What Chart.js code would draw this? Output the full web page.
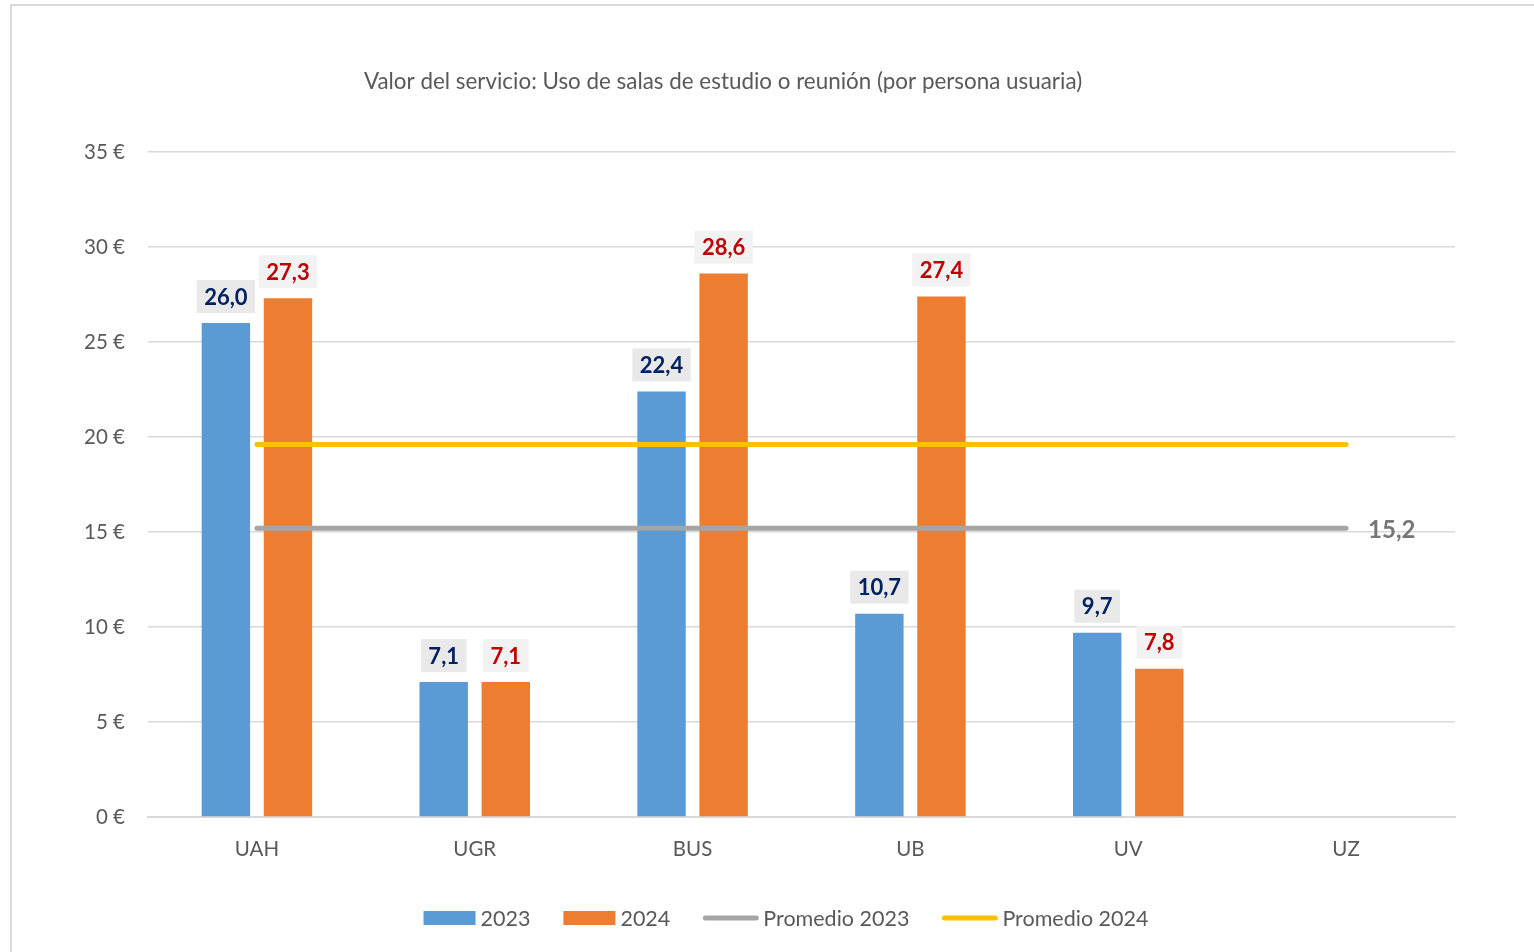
<!DOCTYPE html>
<html lang="es">
<head>
    <meta charset="UTF-8">
    <title>Valor del servicio</title>
    <script src="https://cdn.jsdelivr.net/npm/chart.js"></script>
    <style>
        body { margin: 0; background: #fff; }
        #wrap { width: 1534px; height: 952px; position: relative; }
    </style>
</head>
<body>
    <div id="wrap"><canvas id="myChart"></canvas></div>

    <script>
        // data
        const categories = ['UAH', 'UGR', 'BUS', 'UB', 'UV', 'UZ'];
        const values2023 = [26.0, 7.1, 22.4, 10.7, 9.7, null];
        const values2024 = [27.3, 7.1, 28.6, 27.4, 7.8, null];
        const promedio2023 = [15.2, 15.2, 15.2, 15.2, 15.2, 15.2];
        const promedio2024 = [19.6, 19.6, 19.6, 19.6, 19.6, 19.6];
        const seriesNames = ['2023', '2024', 'Promedio 2023', 'Promedio 2024'];
        const titleText = 'Valor del servicio: Uso de salas de estudio o reunión (por persona usuaria)';

        const FONT = 'Lato, "Open Sans", sans-serif';
        const colors = ['#5b9bd5', '#ed7d31', '#a5a5a5', '#ffc000'];

        function fmt(v) {
            return v.toFixed(1).replace('.', ',');
        }

        // title, frame, value labels and legend
        const extras = {
            id: 'extras',
            beforeDraw(chart) {
                const ctx = chart.ctx;
                ctx.save();
                ctx.strokeStyle = '#d9d9d9';
                ctx.lineWidth = 2;
                ctx.strokeRect(11, 5, 1700, 1100);
                ctx.fillStyle = '#595959';
                ctx.font = '22.4px ' + FONT;
                ctx.textAlign = 'center';
                ctx.textBaseline = 'middle';
                ctx.fillText(titleText, 723, 82);
                ctx.restore();
            },
            afterDraw(chart) {
                const ctx = chart.ctx;
                ctx.save();
                ctx.font = 'bold 22px ' + FONT;
                ctx.textAlign = 'center';
                ctx.textBaseline = 'middle';

                // bar labels
                [[0, '#e9e9e9', '#002060'], [1, '#f2f2f2', '#c00000']].forEach(([di, bg, fg]) => {
                    const meta = chart.getDatasetMeta(di);
                    const data = chart.data.datasets[di].data;
                    meta.data.forEach((bar, i) => {
                        if (data[i] == null) return;
                        const txt = fmt(data[i]);
                        const w = ctx.measureText(txt).width + 15;
                        const h = 33;
                        const bottom = bar.y - 10;
                        ctx.fillStyle = bg;
                        ctx.fillRect(bar.x - w / 2, bottom - h, w, h);
                        ctx.fillStyle = fg;
                        ctx.fillText(txt, bar.x, bottom - h / 2 + 1);
                    });
                });

                // label at end of promedio 2023 line
                const lineMeta = chart.getDatasetMeta(2);
                const last = lineMeta.data[lineMeta.data.length - 1];
                ctx.font = 'bold 24px ' + FONT;
                ctx.fillStyle = '#767676';
                ctx.textAlign = 'left';
                ctx.fillText(fmt(promedio2023[promedio2023.length - 1]), last.x + 22, last.y + 2);

                // legend
                ctx.font = '21.5px ' + FONT;
                const markW = [52, 52, 55, 55];
                const gapText = 5, gapItem = 33;
                let total = 0;
                seriesNames.forEach((n, i) => {
                    total += markW[i] + gapText + ctx.measureText(n).width;
                    if (i < seriesNames.length - 1) total += gapItem;
                });
                let x = 786 - total / 2;
                const y = 918;
                seriesNames.forEach((n, i) => {
                    if (i < 2) {
                        ctx.fillStyle = colors[i];
                        ctx.fillRect(x, y - 7, markW[i], 14);
                    } else {
                        ctx.strokeStyle = colors[i];
                        ctx.lineWidth = 5;
                        ctx.lineCap = 'round';
                        ctx.beginPath();
                        ctx.moveTo(x + 2, y);
                        ctx.lineTo(x + markW[i] - 2, y);
                        ctx.stroke();
                    }
                    x += markW[i] + gapText;
                    ctx.fillStyle = '#595959';
                    ctx.fillText(n, x, y + 1);
                    x += ctx.measureText(n).width + gapItem;
                });
                ctx.restore();
            }
        };

        const ctx = document.getElementById('myChart').getContext('2d');
        new Chart(ctx, {
            type: 'bar',
            data: {
                labels: categories,
                datasets: [
                    { label: seriesNames[0], data: values2023, backgroundColor: colors[0], order: 2,
                      categoryPercentage: 0.57, barPercentage: 0.78 },
                    { label: seriesNames[1], data: values2024, backgroundColor: colors[1], order: 2,
                      categoryPercentage: 0.57, barPercentage: 0.78 },
                    { type: 'line', label: seriesNames[2], data: promedio2023, borderColor: colors[2],
                      borderWidth: 5, pointRadius: 0, borderCapStyle: 'round', order: 1 },
                    { type: 'line', label: seriesNames[3], data: promedio2024, borderColor: colors[3],
                      borderWidth: 5, pointRadius: 0, borderCapStyle: 'round', order: 1 }
                ]
            },
            options: {
                responsive: true,
                maintainAspectRatio: false,
                animation: false,
                layout: { padding: { left: 0, right: 79, top: 152, bottom: 85 } },
                plugins: {
                    legend: { display: false },
                    tooltip: { enabled: false },
                    title: { display: false }
                },
                scales: {
                    x: {
                        grid: { display: false, drawTicks: false },
                        border: { display: true, color: '#d9d9d9', width: 2 },
                        ticks: { color: '#595959', font: { family: FONT, size: 20.5 }, padding: 20 },
                        afterFit: s => { s.height = 50; }
                    },
                    y: {
                        min: 0,
                        max: 35,
                        grid: { color: '#d9d9d9', lineWidth: 1.5, drawTicks: false },
                        border: { display: false },
                        ticks: {
                            stepSize: 5,
                            color: '#595959',
                            font: { family: FONT, size: 20.5 },
                            padding: 23,
                            callback: v => v + ' €'
                        },
                        afterFit: s => { s.width = 148; }
                    }
                }
            },
            plugins: [extras]
        });
    </script>
</body>
</html>
